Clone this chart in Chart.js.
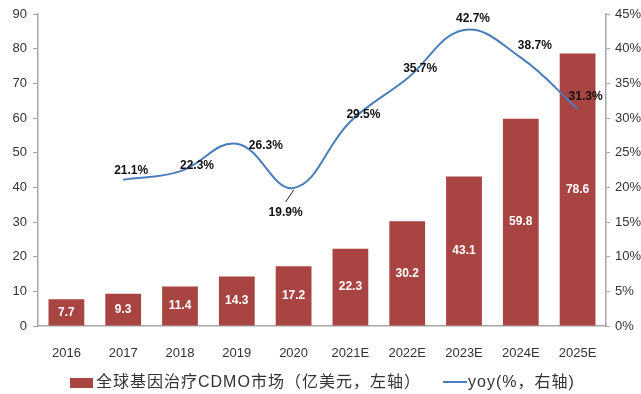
<!DOCTYPE html>
<html>
<head>
<meta charset="utf-8">
<script src="https://cdn.jsdelivr.net/npm/chart.js@4/dist/chart.umd.min.js"></script>
<style>
  body { margin: 0; background: #fff; }
  #wrap { width: 641px; height: 394px; position: relative; }
</style>
</head>
<body>
<div id="wrap"><canvas id="cdmoChart"></canvas></div>
<script>
// data
const years = ['2016', '2017', '2018', '2019', '2020', '2021E', '2022E', '2023E', '2024E', '2025E'];
const marketSize = [7.7, 9.3, 11.4, 14.3, 17.2, 22.3, 30.2, 43.1, 59.8, 78.6];
const yoyGrowth = [null, 21.1, 22.3, 26.3, 19.9, 29.5, 35.7, 42.7, 38.7, 31.3];
const barLegend = '全球基因治疗CDMO市场（亿美元，左轴）';
const lineLegend = 'yoy(%，右轴)';

// label offsets for the yoy values (px from the point)
const yoyLabelShift = [null, [8, -9], [17, -6], [29, 2], [-8, 25], [13, -7], [13, -10], [9, -11], [14, -12], [8, -12]];

const barColor = '#a84441';
const lineColor = '#4a7ebb';
const axisColor = '#a6a6a6';
const latin = '"Liberation Sans", Arial, sans-serif';
const cjk = '"Liberation Sans", "Noto Sans CJK SC", sans-serif';

const labelPlugin = {
    id: 'labelPlugin',
    afterDatasetsDraw(chart) {
        const ctx = chart.ctx;
        ctx.save();
        ctx.textAlign = 'center';
        ctx.textBaseline = 'middle';
        ctx.font = 'bold 12px ' + latin;

        // bar values, white in the middle of each bar
        const bars = chart.getDatasetMeta(0).data;
        ctx.fillStyle = '#ffffff';
        bars.forEach((bar, i) => {
            ctx.fillText(marketSize[i].toFixed(1), bar.x, (bar.y + bar.base) / 2);
        });

        // yoy values
        const pts = chart.getDatasetMeta(1).data;
        ctx.fillStyle = '#111111';
        pts.forEach((p, i) => {
            if (yoyGrowth[i] === null) return;
            const s = yoyLabelShift[i];
            ctx.fillText(yoyGrowth[i].toFixed(1) + '%', p.x + s[0], p.y + s[1]);
        });

        // leader line under the 2020 dip
        const dip = pts[4];
        ctx.strokeStyle = '#222';
        ctx.lineWidth = 1;
        ctx.beginPath();
        ctx.moveTo(dip.x, dip.y + 2);
        ctx.lineTo(dip.x - 8, dip.y + 14);
        ctx.stroke();
        ctx.restore();
    },
    afterDraw(chart) {
        // custom legend along the bottom
        const ctx = chart.ctx;
        ctx.save();
        ctx.fillStyle = barColor;
        ctx.fillRect(70, 378, 23, 10);
        ctx.strokeStyle = lineColor;
        ctx.lineWidth = 2;
        ctx.beginPath();
        ctx.moveTo(443, 382);
        ctx.lineTo(467, 382);
        ctx.stroke();
        ctx.fillStyle = '#333';
        ctx.font = '16px ' + cjk;
        ctx.letterSpacing = '1px';
        ctx.textBaseline = 'middle';
        ctx.textAlign = 'left';
        ctx.fillText(barLegend, 96, 383);
        ctx.fillText(lineLegend, 468, 383);
        ctx.restore();
    }
};

new Chart(document.getElementById('cdmoChart').getContext('2d'), {
    type: 'bar',
    data: {
        labels: years,
        datasets: [{
            label: barLegend,
            data: marketSize,
            backgroundColor: barColor,
            borderWidth: 0,
            barPercentage: 0.63,
            categoryPercentage: 1,
            yAxisID: 'y',
            order: 2
        }, {
            type: 'line',
            label: lineLegend,
            data: yoyGrowth,
            borderColor: lineColor,
            borderWidth: 2,
            pointRadius: 0,
            tension: 0.4,
            fill: false,
            yAxisID: 'y1',
            order: 1
        }]
    },
    options: {
        responsive: true,
        maintainAspectRatio: false,
        animation: false,
        layout: { padding: { top: 14, left: 0, right: 0, bottom: 0 } },
        plugins: {
            legend: { display: false },
            tooltip: { enabled: false }
        },
        scales: {
            x: {
                grid: { display: false, drawTicks: false },
                border: { color: axisColor, width: 1.5 },
                ticks: { color: '#333', font: { size: 13, family: latin }, padding: 20, maxRotation: 0 },
                afterFit(axis) { axis.height = 68; }
            },
            y: {
                position: 'left',
                min: 0, max: 90,
                grid: { drawOnChartArea: false, drawTicks: true, tickLength: 5, color: axisColor },
                border: { color: axisColor, width: 1.5 },
                ticks: { stepSize: 10, color: '#333', font: { size: 13, family: latin }, padding: 6 },
                afterFit(axis) { axis.width = 38; }
            },
            y1: {
                position: 'right',
                min: 0, max: 45,
                grid: { drawOnChartArea: false, drawTicks: true, tickLength: 4, color: axisColor },
                border: { color: axisColor, width: 1.5 },
                ticks: {
                    stepSize: 5, color: '#333', font: { size: 13, family: latin }, padding: 5,
                    callback: v => v + '%'
                },
                afterFit(axis) { axis.width = 35; }
            }
        }
    },
    plugins: [labelPlugin]
});
</script>
</body>
</html>
